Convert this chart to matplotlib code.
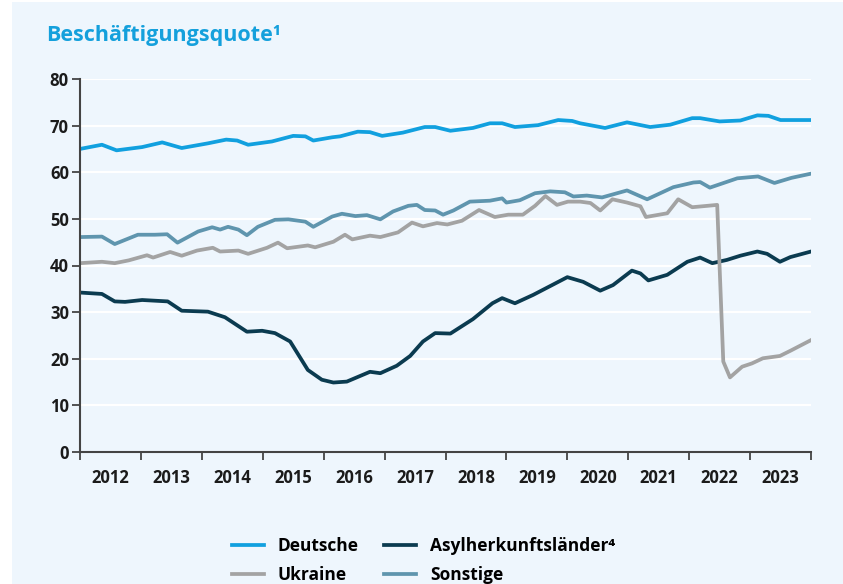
import matplotlib
matplotlib.use("Agg")
import matplotlib.pyplot as plt
from matplotlib.patches import Rectangle

plt.rcParams['font.family'] = ['Open Sans', 'DejaVu Sans']

# Beschäftigungsquote in %, Zeitpunkte als Dezimaljahre
t_deutsche = [2012.0, 2012.36, 2012.6, 2013.02, 2013.35, 2013.67, 2014.1, 2014.4, 2014.58,
              2014.76, 2015.15, 2015.5, 2015.7, 2015.83, 2016.14, 2016.27, 2016.56, 2016.76,
              2016.96, 2017.3, 2017.66, 2017.83, 2018.08, 2018.45, 2018.73, 2018.93, 2019.14,
              2019.52, 2019.85, 2020.08, 2020.21, 2020.62, 2020.98, 2021.36, 2021.69, 2022.05,
              2022.18, 2022.5, 2022.84, 2023.12, 2023.3, 2023.5, 2024.0]
deutsche = [65.0, 65.9, 64.7, 65.4, 66.4, 65.2, 66.2, 67.0, 66.8,
            65.9, 66.6, 67.8, 67.7, 66.8, 67.5, 67.7, 68.7, 68.6,
            67.8, 68.5, 69.7, 69.7, 68.9, 69.5, 70.5, 70.5, 69.7,
            70.1, 71.2, 71.0, 70.5, 69.5, 70.7, 69.7, 70.2, 71.6,
            71.6, 70.9, 71.1, 72.2, 72.1, 71.2, 71.2]

t_asyl = [2012.0, 2012.36, 2012.57, 2012.74, 2013.02, 2013.44, 2013.67, 2014.1, 2014.38,
          2014.74, 2014.99, 2015.2, 2015.45, 2015.74, 2015.97, 2016.16, 2016.38, 2016.76,
          2016.93, 2017.2, 2017.42, 2017.63, 2017.83, 2018.08, 2018.45, 2018.77, 2018.93,
          2019.14, 2019.44, 2019.72, 2020.0, 2020.26, 2020.54, 2020.75, 2021.06, 2021.2,
          2021.33, 2021.64, 2021.97, 2022.18, 2022.38, 2022.62, 2022.84, 2023.12, 2023.28,
          2023.49, 2023.66, 2024.0]
asyl = [34.2, 33.9, 32.3, 32.2, 32.6, 32.3, 30.3, 30.1, 28.9,
        25.8, 26.0, 25.5, 23.7, 17.6, 15.5, 14.9, 15.1, 17.2,
        16.9, 18.5, 20.6, 23.7, 25.5, 25.4, 28.5, 31.9, 33.0,
        31.9, 33.7, 35.6, 37.5, 36.5, 34.6, 35.8, 38.9, 38.3,
        36.8, 38.0, 40.8, 41.7, 40.5, 41.2, 42.1, 43.0, 42.5,
        40.8, 41.8, 43.0]

t_ukraine = [2012.0, 2012.36, 2012.57, 2012.8, 2013.1, 2013.2, 2013.48, 2013.67, 2013.92,
             2014.18, 2014.3, 2014.6, 2014.76, 2015.07, 2015.25, 2015.4, 2015.74, 2015.86,
             2016.16, 2016.35, 2016.47, 2016.76, 2016.93, 2017.22, 2017.45, 2017.63, 2017.86,
             2018.03, 2018.27, 2018.55, 2018.81, 2019.03, 2019.27, 2019.47, 2019.64, 2019.83,
             2020.01, 2020.21, 2020.38, 2020.54, 2020.74, 2020.98, 2021.2, 2021.29, 2021.64,
             2021.82, 2022.05, 2022.3, 2022.46, 2022.56, 2022.67, 2022.87, 2023.03, 2023.21,
             2023.49, 2023.66, 2024.0]
ukraine = [40.5, 40.8, 40.5, 41.1, 42.2, 41.7, 42.9, 42.1, 43.2,
           43.8, 43.0, 43.2, 42.5, 43.8, 44.9, 43.7, 44.3, 43.9,
           45.1, 46.6, 45.6, 46.4, 46.1, 47.1, 49.2, 48.4, 49.1,
           48.8, 49.6, 51.9, 50.4, 50.9, 50.9, 52.8, 54.9, 53.0,
           53.7, 53.7, 53.4, 51.8, 54.2, 53.5, 52.7, 50.4, 51.2,
           54.2, 52.5, 52.8, 53.0, 19.4, 16.0, 18.3, 19.0, 20.1,
           20.6, 21.7, 24.0]

t_sonstige = [2012.0, 2012.36, 2012.57, 2012.95, 2013.23, 2013.43, 2013.6, 2013.94, 2014.17,
              2014.3, 2014.43, 2014.6, 2014.74, 2014.92, 2015.2, 2015.42, 2015.7, 2015.83,
              2016.14, 2016.3, 2016.52, 2016.71, 2016.93, 2017.14, 2017.39, 2017.53, 2017.66,
              2017.83, 2017.96, 2018.13, 2018.4, 2018.73, 2018.93, 2019.0, 2019.22, 2019.47,
              2019.72, 2019.96, 2020.1, 2020.32, 2020.57, 2020.98, 2021.31, 2021.74, 2022.07,
              2022.18, 2022.34, 2022.79, 2023.13, 2023.4, 2023.68, 2024.0]
sonstige = [46.1, 46.2, 44.6, 46.6, 46.6, 46.7, 44.9, 47.3, 48.2,
            47.7, 48.3, 47.7, 46.5, 48.3, 49.8, 49.9, 49.4, 48.3,
            50.5, 51.1, 50.6, 50.8, 49.9, 51.6, 52.8, 53.0, 51.9,
            51.8, 50.9, 51.8, 53.7, 53.9, 54.4, 53.5, 54.0, 55.5,
            55.9, 55.7, 54.8, 55.0, 54.6, 56.1, 54.2, 56.8, 57.8,
            57.9, 56.7, 58.7, 59.1, 57.7, 58.8, 59.7]

years = list(range(2012, 2024))
yticks = list(range(0, 81, 10))

panel = '#eef6fd'
dark = '#1b1b1b'

fig = plt.figure(figsize=(8.43, 5.84), dpi=100)
fig.patch.set_facecolor('white')
fig.patches.append(Rectangle((12 / 843, 0), 1, 1 - 2 / 584, transform=fig.transFigure,
                             facecolor=panel, edgecolor='none', zorder=-5))

ax = fig.add_axes([80 / 843, 1 - 452 / 584, 731 / 843, 373 / 584])
ax.set_facecolor(panel)

lw = 2.7
l_de, = ax.plot(t_deutsche, deutsche, color='#11a0df', lw=lw, solid_joinstyle='round')
l_uk, = ax.plot(t_ukraine, ukraine, color='#a3a3a3', lw=lw, solid_joinstyle='round')
l_as, = ax.plot(t_asyl, asyl, color='#0b3b50', lw=lw, solid_joinstyle='round')
l_so, = ax.plot(t_sonstige, sonstige, color='#5f95ae', lw=lw, solid_joinstyle='round')
l_uk.set_zorder(2.1)
l_so.set_zorder(2.2)

ax.set_xlim(2012, 2024)
ax.set_ylim(0, 80)
ax.set_yticks(yticks)
ax.yaxis.grid(True, color='white', lw=1.6)
ax.set_axisbelow(True)

ax.set_xticks(range(2012, 2025))
ax.set_xticklabels([])
ax.set_xticks([y + 0.5 for y in years], minor=True)
ax.set_xticklabels([str(y) for y in years], minor=True)
ax.tick_params(axis='x', which='minor', length=0, pad=12)
ax.tick_params(axis='x', which='major', length=6, width=1.3, color='#444444')
ax.tick_params(axis='y', length=6, width=1.3, color='#444444', pad=2)
for lab in ax.get_xticklabels(minor=True) + ax.get_yticklabels():
    lab.set_fontsize(12)
    lab.set_fontweight('bold')
    lab.set_color(dark)

for s in ['top', 'right']:
    ax.spines[s].set_visible(False)
for s in ['left', 'bottom']:
    ax.spines[s].set_color('#444444')
    ax.spines[s].set_linewidth(1.5)

fig.text(46 / 843, 1 - 36 / 584, 'Beschäftigungsquote¹', color='#14a0dc',
         fontsize=15.5, fontweight='bold', va='center', ha='left')

fig.legend([l_de, l_uk, l_as, l_so],
           ['Deutsche', 'Ukraine', 'Asylherkunftsländer⁴', 'Sonstige'],
           ncol=2, loc='upper left', bbox_to_anchor=(216 / 843, 1 - 521 / 584),
           frameon=False, handlelength=1.85, handletextpad=0.8, columnspacing=1.45,
           labelspacing=0.68, prop={'size': 12.5, 'weight': 'bold'})

fig.savefig('out.png', dpi=100)
